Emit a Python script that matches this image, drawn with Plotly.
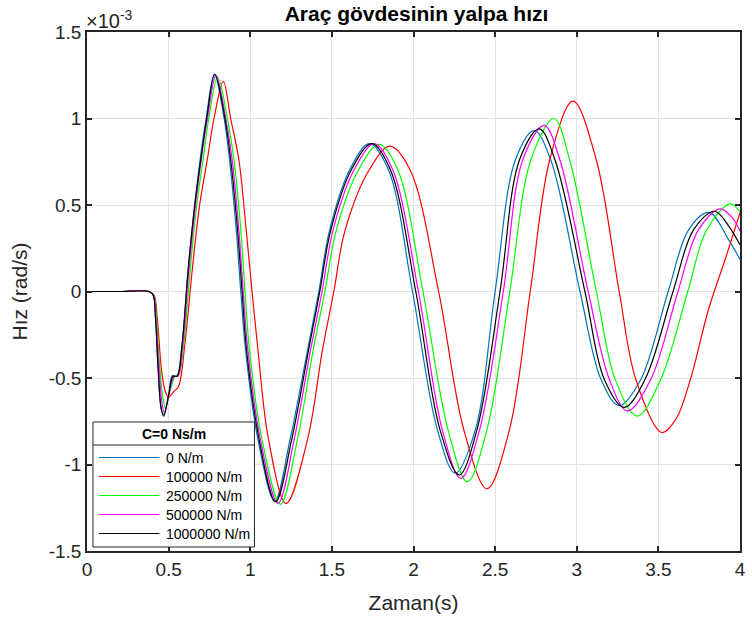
import plotly.graph_objects as go

# Yaw rate of the vehicle body (values in units of 1e-3 rad/s)
series_names = ["0 N/m", "100000 N/m", "250000 N/m", "500000 N/m", "1000000 N/m"]
series_colors = ["#0072BD", "#FF0000", "#00FF00", "#FF00FF", "#000000"]

t_0 = [0, 0.2, 0.38, 0.405, 0.42, 0.436, 0.455, 0.47, 0.50, 0.523, 0.55, 0.58, 0.62, 0.66, 0.693, 0.73, 0.78,
       0.84, 0.873, 0.914, 0.942, 0.971, 1.047, 1.15, 1.244, 1.352, 1.42, 1.487, 1.61, 1.73, 1.846,
       1.994, 2.146, 2.255, 2.379, 2.50, 2.625, 2.74, 2.84, 3.02, 3.149, 3.26, 3.392, 3.56, 3.686,
       3.81, 3.93, 4.0]
v_0 = [0, 0, 0, -0.02, -0.16, -0.45, -0.68, -0.71, -0.60, -0.485, -0.49, -0.33, 0.13, 0.50, 0.763, 1.0, 1.255,
       1.0, 0.763, 0.358, 0, -0.335, -0.855, -1.21, -0.855, -0.335, 0, 0.358, 0.705, 0.855, 0.705,
       0, -0.798, -1.05, -0.798, 0, 0.763, 0.93, 0.763, 0, -0.509, -0.66, -0.509, 0, 0.358,
       0.457, 0.30, 0.185]

t_100k = [0, 0.2, 0.38, 0.41, 0.43, 0.456, 0.48, 0.50, 0.53, 0.56, 0.60, 0.645, 0.69, 0.737, 0.778, 0.835, 0.88,
          0.93, 0.975, 1.011, 1.047, 1.112, 1.22, 1.351, 1.443, 1.512, 1.582, 1.73, 1.855, 1.978,
          2.154, 2.308, 2.45, 2.588, 2.715, 2.835, 2.977, 3.119, 3.26, 3.362, 3.52, 3.606, 3.696,
          3.807, 3.909, 4.0]
v_100k = [0, 0, 0, -0.02, -0.15, -0.45, -0.58, -0.61, -0.58, -0.55, -0.30, 0.127, 0.50, 0.763, 1.0, 1.215, 1.0,
          0.763, 0.358, 0, -0.335, -0.855, -1.225, -0.855, -0.335, 0, 0.358, 0.705, 0.84, 0.705,
          0, -0.798, -1.14, -0.798, 0, 0.763, 1.10, 0.763, 0, -0.509, -0.815, -0.74, -0.509,
          -0.104, 0.185, 0.455]

t_250k = [0, 0.2, 0.38, 0.408, 0.425, 0.443, 0.463, 0.48, 0.51, 0.54, 0.562, 0.59, 0.63, 0.672, 0.711, 0.746, 0.80,
          0.86, 0.90, 0.942, 0.968, 0.995, 1.072, 1.185, 1.289, 1.386, 1.457, 1.528, 1.664, 1.79, 1.903,
          2.058, 2.211, 2.33, 2.45, 2.59, 2.72, 2.86, 2.956, 3.12, 3.236, 3.37, 3.514, 3.68, 3.797,
          3.94, 4.0]
v_250k = [0, 0, 0, -0.02, -0.15, -0.40, -0.60, -0.67, -0.57, -0.49, -0.48, -0.33, 0.10, 0.50, 0.763, 1.0, 1.24,
          1.0, 0.763, 0.358, 0, -0.335, -0.855, -1.23, -0.855, -0.335, 0, 0.358, 0.705, 0.85, 0.705,
          0, -0.798, -1.10, -0.798, 0, 0.763, 1.0, 0.763, 0, -0.509, -0.72, -0.509, 0, 0.358,
          0.507, 0.46]

t_500k = [0, 0.2, 0.38, 0.407, 0.422, 0.44, 0.46, 0.475, 0.505, 0.535, 0.557, 0.585, 0.625, 0.665, 0.70, 0.738, 0.79,
          0.85, 0.889, 0.93, 0.957, 0.985, 1.062, 1.17, 1.269, 1.37, 1.44, 1.508, 1.637, 1.76, 1.872,
          2.03, 2.176, 2.29, 2.405, 2.55, 2.67, 2.80, 2.896, 3.07, 3.20, 3.31, 3.453, 3.62, 3.746,
          3.878, 3.95, 4.0]
v_500k = [0, 0, 0, -0.02, -0.16, -0.42, -0.65, -0.70, -0.58, -0.49, -0.49, -0.33, 0.13, 0.50, 0.763, 1.0, 1.25,
          1.0, 0.763, 0.358, 0, -0.335, -0.855, -1.225, -0.855, -0.335, 0, 0.358, 0.705, 0.855, 0.705,
          0, -0.798, -1.08, -0.798, 0, 0.763, 0.96, 0.763, 0, -0.509, -0.69, -0.509, 0, 0.358,
          0.478, 0.43, 0.35]

t_1m = [0, 0.2, 0.38, 0.405, 0.42, 0.436, 0.455, 0.47, 0.50, 0.527, 0.552, 0.58, 0.62, 0.66, 0.697, 0.733, 0.783,
        0.845, 0.88, 0.922, 0.95, 0.977, 1.054, 1.155, 1.254, 1.358, 1.426, 1.494, 1.62, 1.745, 1.858,
        2.014, 2.162, 2.28, 2.389, 2.53, 2.65, 2.77, 2.866, 3.05, 3.169, 3.29, 3.418, 3.59, 3.716,
        3.844, 3.93, 4.0]
v_1m = [0, 0, 0, -0.02, -0.16, -0.45, -0.68, -0.72, -0.60, -0.49, -0.49, -0.33, 0.13, 0.50, 0.763, 1.0, 1.255,
        1.0, 0.763, 0.358, 0, -0.335, -0.855, -1.215, -0.855, -0.335, 0, 0.358, 0.705, 0.855, 0.705,
        0, -0.798, -1.06, -0.798, 0, 0.763, 0.94, 0.763, 0, -0.509, -0.67, -0.509, 0, 0.358,
        0.464, 0.38, 0.27]

x_ticks = [0, 0.5, 1, 1.5, 2, 2.5, 3, 3.5, 4]
x_tick_text = ["0", "0.5", "1", "1.5", "2", "2.5", "3", "3.5", "4"]
y_ticks = [-1.5, -1, -0.5, 0, 0.5, 1, 1.5]
y_tick_text = ["-1.5", "-1", "-0.5", "0", "0.5", "1", "1.5"]

series_t = [t_0, t_100k, t_250k, t_500k, t_1m]
series_v = [v_0, v_100k, v_250k, v_500k, v_1m]
for tt, vv in zip(series_t, series_v):
    assert len(tt) == len(vv)

FONT = "Liberation Sans, Arial, sans-serif"
AX = "#262626"
W, H = 752, 621
L, R, T, B = 87, 6, 32, 70
PW, PH = W - L - R, H - T - B


def px(x):
    return (x - L) / PW


def py(y):
    return (H - B - y) / PH


fig = go.Figure()
for name, color, tt, vv in zip(series_names, series_colors, series_t, series_v):
    fig.add_trace(go.Scatter(x=tt, y=vv, name=name, mode="lines",
                             line=dict(color=color, width=1.2, shape="spline", smoothing=1.0),
                             showlegend=False))

axis_common = dict(showline=True, linecolor=AX, linewidth=1.5, mirror="allticks",
                   ticks="inside", ticklen=5, tickwidth=1.5, tickcolor=AX,
                   showgrid=True, gridcolor="#e2e2e2", gridwidth=1, zeroline=False,
                   tickfont=dict(family=FONT, size=19, color=AX))

fig.update_xaxes(range=[0, 4], tickvals=x_ticks, ticktext=x_tick_text,
                 title=dict(text="Zaman(s)", font=dict(family=FONT, size=21, color=AX), standoff=17),
                 **axis_common)
fig.update_yaxes(range=[-1.5, 1.5], tickvals=y_ticks, ticktext=y_tick_text,
                 title=dict(text="Hız (rad/s)", font=dict(family=FONT, size=21, color=AX), standoff=15),
                 **axis_common)

# Legend box drawn with shapes and text
lg_left, lg_top, lg_right, lg_bottom = 93, 422, 256, 547
sep_y = 445
shapes = [
    dict(type="rect", xref="paper", yref="paper", x0=px(lg_left), x1=px(lg_right),
         y0=py(lg_bottom), y1=py(lg_top), fillcolor="white", line=dict(color=AX, width=1), layer="above"),
    dict(type="line", xref="paper", yref="paper", x0=px(lg_left), x1=px(lg_right),
         y0=py(sep_y), y1=py(sep_y), line=dict(color=AX, width=1), layer="above"),
]
annotations = [
    dict(text="<b>C=0 Ns/m</b>", xref="paper", yref="paper", x=px((lg_left + lg_right) / 2), y=py(434),
         xanchor="center", yanchor="middle", showarrow=False, font=dict(family=FONT, size=14, color="#000")),
    dict(text="×10<sup>-3</sup>", xref="paper", yref="paper", x=px(84), y=py(34),
         xanchor="left", yanchor="bottom", showarrow=False, font=dict(family=FONT, size=20, color=AX)),
]
entry_y = [457.5, 476.5, 495.5, 514.5, 533.5]
for name, color, ey in zip(series_names, series_colors, entry_y):
    shapes.append(dict(type="line", xref="paper", yref="paper", x0=px(99), x1=px(160), y0=py(ey), y1=py(ey),
                       line=dict(color=color, width=1.2), layer="above"))
    annotations.append(dict(text=name, xref="paper", yref="paper", x=px(165), y=py(ey), xanchor="left",
                            yanchor="middle", showarrow=False, font=dict(family=FONT, size=14, color="#000")))

fig.update_layout(
    width=W, height=H,
    margin=dict(l=L, r=R, t=T, b=B),
    paper_bgcolor="white", plot_bgcolor="white",
    title=dict(text="<b>Araç gövdesinin yalpa hızı</b>", x=(L + PW / 2) / W, xanchor="center",
               y=1 - 14 / H, yanchor="middle", font=dict(family=FONT, size=21, color="#000")),
    shapes=shapes, annotations=annotations,
    showlegend=False,
)

fig.write_html("out.html")
